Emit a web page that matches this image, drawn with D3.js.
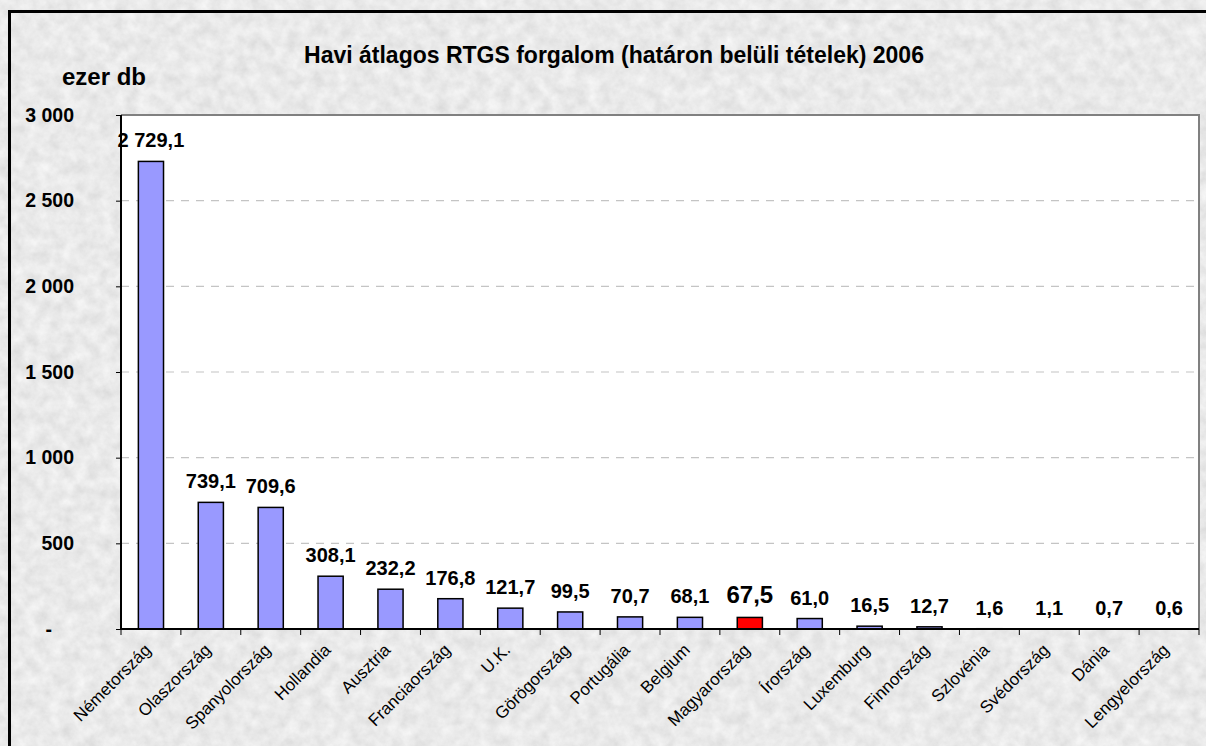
<!DOCTYPE html>
<html>
<head>
<meta charset="utf-8">
<script src="https://cdn.jsdelivr.net/npm/d3@7"></script>
<style>
  html, body { margin: 0; padding: 0; background: #fff; overflow: hidden; }
  svg { display: block; font-family: "Liberation Sans", Arial, sans-serif; }
</style>
</head>
<body>
<svg id="chart" width="1206" height="746"></svg>
<script>
// data
const countries = ['Németország', 'Olaszország', 'Spanyolország', 'Hollandia', 'Ausztria',
  'Franciaország', 'U.K.', 'Görögország', 'Portugália', 'Belgium', 'Magyarország', 'Írország',
  'Luxemburg', 'Finnország', 'Szlovénia', 'Svédország', 'Dánia', 'Lengyelország']
const values = [2729.1, 739.1, 709.6, 308.1, 232.2, 176.8, 121.7, 99.5, 70.7, 68.1, 67.5, 61.0,
  16.5, 12.7, 1.6, 1.1, 0.7, 0.6]
const highlight = 'Magyarország'
const yTicks = [0, 500, 1000, 1500, 2000, 2500, 3000]
const title = 'Havi átlagos RTGS forgalom (határon belüli tételek) 2006'
const unitLabel = 'ezer db'

const W = 1206, H = 746
const plot = {left: 121, right: 1199, top: 115, bottom: 629}

const hu = d3.formatLocale({decimal: ',', thousands: '\u00a0', grouping: [3], currency: ['', '']})
const fmtTick = hu.format(',.0f')
const fmtVal = hu.format(',.1f')

const svg = d3.select('#chart')
const defs = svg.append('defs')

// grey paper texture
const f = defs.append('filter').attr('id', 'paper')
  .attr('filterUnits', 'userSpaceOnUse')
  .attr('x', 0).attr('y', 0).attr('width', W).attr('height', H)
f.append('feTurbulence').attr('type', 'fractalNoise').attr('baseFrequency', 0.08)
  .attr('numOctaves', 5).attr('seed', 7).attr('result', 'n')
f.append('feColorMatrix').attr('type', 'matrix')
  .attr('values', '0.26 0 0 0 0.69  0.26 0 0 0 0.69  0.26 0 0 0 0.69  0 0 0 0 1')

svg.append('rect').attr('width', W).attr('height', H).attr('fill', '#fff')
svg.append('rect').attr('x', 15).attr('y', 17).attr('width', W - 15).attr('height', H - 17)
  .attr('fill', '#d2d2d2').attr('filter', 'url(#paper)')
svg.append('rect').attr('x', 9.5).attr('y', 11.5).attr('width', W + 20).attr('height', H + 20)
  .attr('fill', 'none').attr('stroke', '#000').attr('stroke-width', 3)

const x = d3.scaleBand().domain(countries).range([plot.left, plot.right])
  .paddingInner(0.58).paddingOuter(0.29)
const y = d3.scaleLinear().domain([0, 3000]).range([plot.bottom, plot.top])
const step = x.step()

// plot area
svg.append('rect').attr('x', plot.left).attr('y', plot.top)
  .attr('width', plot.right - plot.left).attr('height', plot.bottom - plot.top).attr('fill', '#fff')

svg.append('g').selectAll('line').data(yTicks.filter(d => d > 0 && d < 3000)).join('line')
  .attr('x1', plot.left).attr('x2', plot.right)
  .attr('y1', d => y(d)).attr('y2', d => y(d))
  .attr('stroke', '#c4c4c4').attr('stroke-width', 1.2).attr('stroke-dasharray', '8,7')

svg.append('path')
  .attr('d', `M${plot.left},${plot.top}H${plot.right}V${plot.bottom}`)
  .attr('fill', 'none').attr('stroke', '#808080').attr('stroke-width', 2)

// bars
svg.append('g').selectAll('rect').data(countries).join('rect')
  .attr('x', d => x(d))
  .attr('y', (d, i) => y(values[i]))
  .attr('width', x.bandwidth())
  .attr('height', (d, i) => y(0) - y(values[i]))
  .attr('fill', d => d === highlight ? '#ff0000' : '#9999ff')
  .attr('stroke', '#000').attr('stroke-width', 1.5)

// value labels
svg.append('g').selectAll('text').data(countries).join('text')
  .attr('x', d => x(d) + x.bandwidth() / 2)
  .attr('y', (d, i) => y(values[i]) - 14)
  .attr('text-anchor', 'middle')
  .attr('font-weight', 'bold')
  .attr('font-size', d => d === highlight ? 24 : 20)
  .text((d, i) => fmtVal(values[i]))

// y axis
const yAxis = svg.append('g').attr('transform', `translate(${plot.left},0)`)
  .call(d3.axisLeft(y).tickValues(yTicks).tickSize(5).tickPadding(42)
    .tickFormat(d => d === 0 ? '-' : fmtTick(d)))
yAxis.select('.domain').remove()
yAxis.selectAll('.tick line').attr('stroke', '#000')
yAxis.selectAll('.tick text').attr('font-size', 19.5).attr('font-weight', 'bold')
  .attr('font-family', null).attr('fill', '#000')
  .attr('dx', d => d === 0 ? -22 : 0)
svg.append('line').attr('x1', plot.left).attr('x2', plot.left)
  .attr('y1', plot.top).attr('y2', plot.bottom).attr('stroke', '#000').attr('stroke-width', 2)

// x axis
svg.append('line').attr('x1', plot.left).attr('x2', plot.right)
  .attr('y1', plot.bottom).attr('y2', plot.bottom).attr('stroke', '#000').attr('stroke-width', 2)
svg.append('g').selectAll('line').data(d3.range(countries.length + 1)).join('line')
  .attr('x1', i => plot.left + i * step).attr('x2', i => plot.left + i * step)
  .attr('y1', plot.bottom).attr('y2', plot.bottom + 6).attr('stroke', '#000')

svg.append('g').selectAll('text').data(countries).join('text')
  .attr('transform', d => `translate(${x(d) + x.bandwidth() / 2 + 1},${plot.bottom + 22}) rotate(-45)`)
  .attr('text-anchor', 'end')
  .attr('font-size', 17)
  .text(d => d)

// titles
svg.append('text').attr('x', 614).attr('y', 63).attr('text-anchor', 'middle')
  .attr('font-weight', 'bold').attr('font-size', 23).text(title)
svg.append('text').attr('x', 62).attr('y', 85)
  .attr('font-weight', 'bold').attr('font-size', 24).text(unitLabel)
</script>
</body>
</html>
